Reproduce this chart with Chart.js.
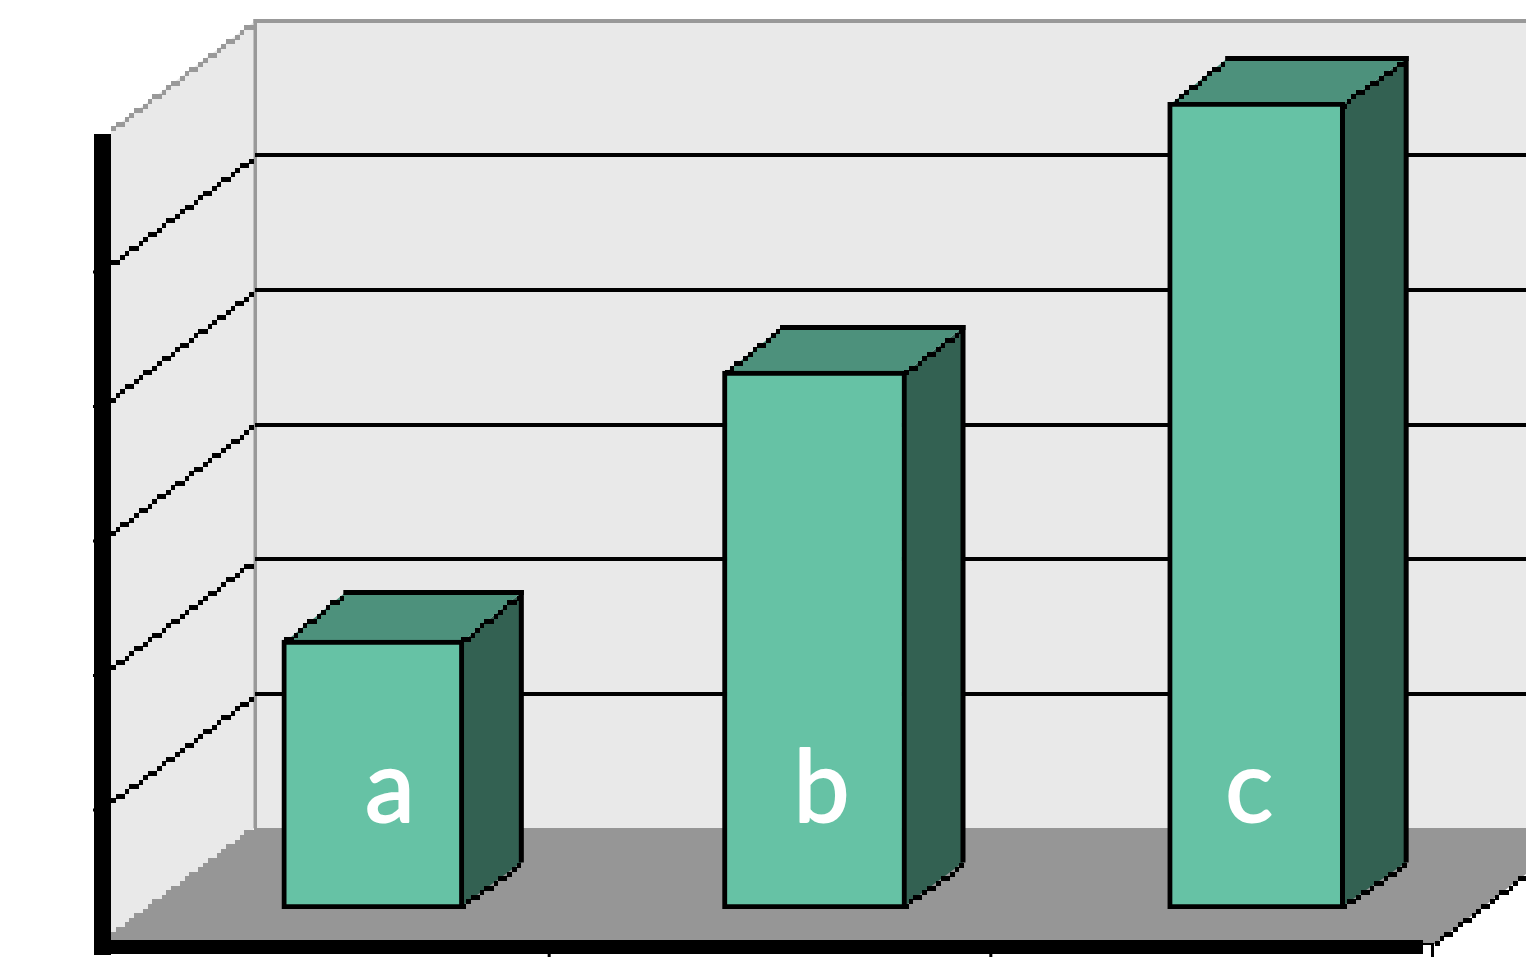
<!DOCTYPE html>
<html>
<head>
<meta charset="utf-8">
<style>
  html, body { margin: 0; padding: 0; background: #fff; overflow: hidden; }
  canvas { display: block; }
</style>
<script src="https://cdn.jsdelivr.net/npm/chart.js@4"></script>
</head>
<body>
<canvas id="barCanvas" width="1526" height="957" style="width:1526px;height:957px"></canvas>
<script>
const categories = ["a", "b", "c"];
const values = [2, 4, 6];
const yTicks = [0, 1, 2, 3, 4, 5, 6];

// fake 3D offsets, the old office chart look
const wallDx = 103, wallDy = 81;   // plot plane -> back wall
const frontDx = 46, frontDy = 31;  // plot plane -> front edge of floor
const barWidths = [182, 184, 177];
const barLeftDx = [61, 57, 57], barRightDx = [60, 59, 64];
const barTopDy = [50, 46, 46], barBaseDy = 44;
const labelShift = [17, 7, -7];
const cell = 4.6; // size of the stair steps on the diagonals

const wallColor = "#e9e9e9", floorColor = "#969696", edgeColor = "#999999";
const frontColor = "#66c2a5", sideColor = "#336152", topColor = "#4d917c";

function stair(ctx, x0, y0, x1, y1, color, below) {
  const n = Math.round((x1 - x0) / cell);
  ctx.fillStyle = color;
  for (let i = 0; i < n; i++) {
    const x = Math.round(x0 + i * cell);
    const xn = Math.round(x0 + (i + 1) * cell);
    const y = Math.round(Math.round((y0 + (y1 - y0) * i / n) / cell) * cell - cell / 2);
    ctx.fillRect(x, y, xn - x, below ? below - y : 5);
  }
}

function poly(ctx, pts, color) {
  ctx.fillStyle = color;
  ctx.beginPath();
  pts.forEach((p, i) => (i ? ctx.lineTo(p[0], p[1]) : ctx.moveTo(p[0], p[1])));
  ctx.closePath();
  ctx.fill();
}

const scene = {
  id: "scene",
  beforeDatasetsDraw(chart) {
    const ctx = chart.ctx;
    const x = chart.scales.x, y = chart.scales.y;
    const W = chart.width;
    const y0 = y.getPixelForValue(0), yTop = y.getPixelForValue(yTicks[yTicks.length - 1]);
    const frontX = x.left - frontDx + 5, backX = x.left + wallDx;
    const endX = x.right - frontDx;

    // walls
    ctx.fillStyle = wallColor;
    ctx.fillRect(backX, yTop - wallDy, W - backX, y0 - yTop);
    poly(ctx, [[frontX, yTop + frontDy - 3], [backX, yTop - wallDy], [backX, y0 - wallDy], [frontX, y0 + frontDy]], wallColor);

    // floor
    ctx.fillStyle = floorColor;
    ctx.fillRect(backX - 1, y0 - wallDy, W - backX + 1, wallDy + frontDy + 4);
    stair(ctx, frontX, y0 + frontDy - 6, backX, y0 - wallDy, floorColor, y0 + frontDy + 4);
    ctx.fillStyle = "#fff";
    ctx.fillRect(endX, y0 + frontDy + 4, W - endX, 20);
    poly(ctx, [[endX + 4, y0 + frontDy + 4], [W, y0 + frontDy - 66], [W, y0 + frontDy + 4]], "#fff");

    // wall edges
    ctx.fillStyle = edgeColor;
    ctx.fillRect(backX - 1.5, yTop - wallDy - 2, W - backX + 2, 4);
    ctx.fillRect(backX - 1.5, yTop - wallDy - 2, 3.5, y0 - yTop + 2);
    stair(ctx, frontX, yTop + frontDy - 4, backX, yTop - wallDy + 2, edgeColor);

    // grid lines, back wall and left wall
    yTicks.slice(1, -1).forEach((t) => {
      const py = y.getPixelForValue(t);
      ctx.fillStyle = "#000";
      ctx.fillRect(backX, Math.round(py - wallDy - 2), W - backX, 4);
      stair(ctx, frontX, py + frontDy - 4, backX, py - wallDy + 2, "#000");
      ctx.fillStyle = "#000";
      ctx.fillRect(frontX - 18, py + frontDy + 3, 4, 3);
    });

    // right edge of the floor
    stair(ctx, endX + 4, y0 + frontDy + 2, W, y0 + frontDy - 66, "#000");

    // thick axes
    ctx.fillStyle = "#000";
    ctx.fillRect(frontX - 17, yTop + frontDy + 1, 17, y0 - yTop + 14);
    ctx.fillRect(frontX - 17, y0 + frontDy, endX - 8 - frontX + 17, 14);
    ctx.fillRect(endX - 8, y0 + frontDy + 3, 8, 2);

    // small ticks under the axis
    for (let i = 0; i < categories.length; i++) {
      const px = i < categories.length - 1
        ? (x.getPixelForValue(i) + x.getPixelForValue(i + 1)) / 2 - frontDx
        : endX;
      ctx.fillRect(px, y0 + frontDy + 3, 3, 15);
    }

    // sides and tops of the bars
    chart.data.datasets.forEach((ds, i) => {
      const bar = chart.getDatasetMeta(i).data[i];
      const l = bar.x - bar.width / 2 + 2.5, r = bar.x + bar.width / 2 - 2.5;
      const t = bar.y + 2.5, b = bar.base - 2.5;
      const bl = l + barLeftDx[i], br = r + barRightDx[i];
      const bt = t - barTopDy[i], bb = b - barBaseDy;
      poly(ctx, [[r, t], [br, bt], [br, bb], [r, b]], sideColor);
      poly(ctx, [[l, t], [bl, bt], [br, bt], [r, t]], topColor);
      ctx.fillStyle = "#000";
      ctx.fillRect(bl - 2, bt - 2.5, br - bl + 4.5, 5);
      ctx.fillRect(br - 2.5, bt - 2.5, 5, bb - bt + 2.5);
      stair(ctx, l, t - 1, bl, bt + 1, "#000");
      stair(ctx, r, t - 1, br, bt + 1, "#000");
      stair(ctx, r, b - 1, br, bb + 1, "#000");
    });
  },
  afterDatasetsDraw(chart) {
    const ctx = chart.ctx;
    const x = chart.scales.x, y = chart.scales.y;
    ctx.save();
    ctx.fillStyle = "#fff";
    ctx.strokeStyle = "#fff";
    ctx.lineWidth = 2;
    ctx.lineJoin = "round";
    ctx.font = "100px Lato";
    ctx.textAlign = "center";
    ctx.textBaseline = "alphabetic";
    categories.forEach((c, i) => {
      const px = x.getPixelForValue(i) + labelShift[i], py = y.getPixelForValue(0) - 87;
      ctx.fillText(c, px, py);
      ctx.strokeText(c, px, py);
    });
    ctx.restore();
  },
};

new Chart(document.getElementById("barCanvas"), {
  type: "bar",
  data: {
    labels: categories,
    datasets: categories.map((c, i) => ({
      data: values.map((v, j) => (j === i ? v : null)),
      backgroundColor: frontColor,
      borderColor: "#000",
      borderWidth: 5,
      borderSkipped: false,
      barThickness: barWidths[i],
      grouped: false,
    })),
  },
  options: {
    responsive: false,
    animation: false,
    devicePixelRatio: 1,
    layout: { padding: { left: 152, right: 49, top: 102, bottom: 48 } },
    plugins: { legend: { display: false }, tooltip: { enabled: false } },
    scales: {
      x: { display: false },
      y: { display: false, min: 0, max: 6, ticks: { stepSize: 1 } },
    },
  },
  plugins: [scene],
});
</script>
</body>
</html>
